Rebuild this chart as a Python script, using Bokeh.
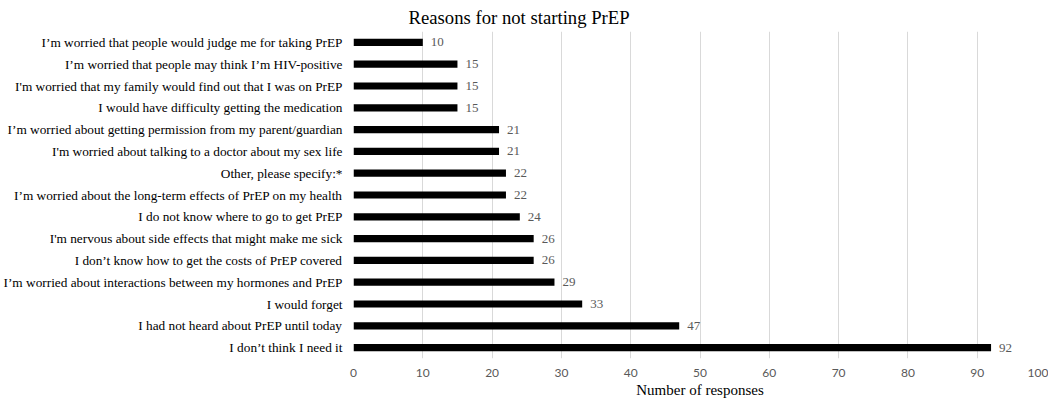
from bokeh.plotting import figure
from bokeh.models import FactorRange, Range1d, FixedTicker, ColumnDataSource
from bokeh.core.properties import value
from bokeh.embed import file_html
from bokeh.resources import INLINE

# Data (top to bottom as shown)
reasons = [
    "I\u2019m worried that people would judge me for taking PrEP",
    "I\u2019m worried that people may think I\u2019m HIV-positive",
    "I'm worried that my family would find out that I was on PrEP",
    "I would have difficulty getting the medication",
    "I\u2019m worried about getting permission from my parent/guardian",
    "I'm worried about talking to a doctor about my sex life",
    "Other, please specify:*",
    "I\u2019m worried about the long-term effects of PrEP on my health",
    "I do not know where to go to get PrEP",
    "I'm nervous about side effects that might make me sick",
    "I don\u2019t know how to get the costs of PrEP covered",
    "I\u2019m worried about interactions between my hormones and PrEP",
    "I would forget",
    "I had not heard about PrEP until today",
    "I don\u2019t think I need it",
]
responses = [10, 15, 15, 15, 21, 21, 22, 22, 24, 26, 26, 29, 33, 47, 92]
x_ticks = [0, 10, 20, 30, 40, 50, 60, 70, 80, 90, 100]

factors = list(reversed(reasons))  # bottom-to-top for Bokeh
src = ColumnDataSource(dict(reason=reasons, n=responses, lab=[str(v) for v in responses]))

SERIF = "Liberation Serif"

p = figure(
    frame_width=693, frame_height=327,
    y_range=FactorRange(factors=factors),
    x_range=Range1d(0, 100),
    output_backend="svg", toolbar_location=None,
    min_border_left=345, min_border_right=2, min_border_top=30, min_border_bottom=40,
    title="Reasons for not starting PrEP",
)
p.outline_line_color = None
p.background_fill_color = "white"
p.border_fill_color = "white"

p.title.text_font = SERIF
p.title.text_font_size = "18.7px"
p.title.text_font_style = "normal"
p.title.text_color = "#000000"
p.title.align = "left"
p.title.offset = 55
p.title.standoff = 8

p.hbar(y="reason", right="n", left=0, height=0.33, source=src,
       fill_color="#000000", line_color=None)

p.text(x="n", y="reason", text="lab", source=src, x_offset=8,
       text_baseline="middle", text_align="left",
       text_font=value(SERIF), text_font_size="13px", text_color="#595959")

# x axis
p.xaxis.ticker = FixedTicker(ticks=x_ticks)
p.xaxis.axis_line_color = None
p.xaxis.major_tick_line_color = None
p.xaxis.minor_tick_line_color = None
p.xaxis.major_tick_out = 0
p.xaxis.major_tick_in = 0
p.xaxis.major_label_standoff = 10
p.xaxis.major_label_text_font = "Lato"
p.xaxis.major_label_text_font_size = "12px"
p.xaxis.major_label_text_color = "#595959"
p.xaxis.axis_label = "Number of responses"
p.xaxis.axis_label_text_font = SERIF
p.xaxis.axis_label_text_font_style = "normal"
p.xaxis.axis_label_text_font_size = "15px"
p.xaxis.axis_label_text_color = "#000000"
p.xaxis.axis_label_standoff = 2

# y axis
p.yaxis.axis_line_color = None
p.yaxis.major_tick_line_color = None
p.yaxis.minor_tick_line_color = None
p.yaxis.major_tick_out = 0
p.yaxis.major_tick_in = 0
p.yaxis.major_label_standoff = 11
p.yaxis.major_label_text_font = SERIF
p.yaxis.major_label_text_font_size = "13.3px"
p.yaxis.major_label_text_color = "#000000"

p.xgrid.grid_line_color = "#d9d9d9"
p.xgrid.grid_line_width = 1
p.ygrid.grid_line_color = None

open("out.html", "w").write(file_html(p, INLINE))
